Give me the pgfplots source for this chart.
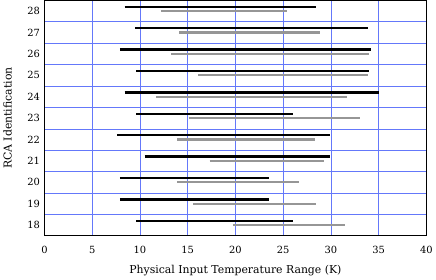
\documentclass[border=0pt]{standalone}
\usepackage{pgfplots}
\pgfplotsset{compat=1.18}
\usepackage{fontspec}
\setmainfont{DejaVu Serif}
\definecolor{gridblue}{RGB}{100,120,250}
\definecolor{bargray}{RGB}{150,150,150}
\begin{document}
\begin{tikzpicture}
\begin{axis}[
  scale only axis,
  width=386.7pt, height=238.3pt,
  xmin=0, xmax=40, ymin=17.5, ymax=28.5,
  xtick={0,5,...,40},
  ytick={18,...,28},
  minor ytick={18.5,19.5,...,27.5},
  xmajorgrids=true,
  yminorgrids=true,
  ymajorgrids=false,
  major tick length=0pt, minor tick length=0pt,
  grid style={gridblue, line width=0.7pt},
  minor grid style={gridblue, line width=0.7pt},
  axis line style={black, line width=0.9pt},
  /pgf/number format/assume math mode=true,
  tick label style={font=\fontsize{10}{11}\selectfont},
  xticklabel style={yshift=-7pt},
  yticklabel style={xshift=-1pt},
  label style={font=\fontsize{11}{12}\selectfont},
  xlabel={Physical Input Temperature Range (K)},
  ylabel={RCA Identification},
  xlabel style={yshift=-5pt},
  ylabel style={yshift=9pt},
  unbounded coords=jump,
]
\addplot[bargray, line width=2.2pt] coordinates {
(12.2,28) (25.4,28) (nan,nan)
(14.1,27) (28.9,27) (nan,nan)
(13.3,26) (34.0,26) (nan,nan)
(16.1,25) (33.9,25) (nan,nan)
(11.7,24) (31.7,24) (nan,nan)
(15.1,23) (33.0,23) (nan,nan)
(13.9,22) (28.3,22) (nan,nan)
(17.3,21) (29.3,21) (nan,nan)
(13.9,20) (26.7,20) (nan,nan)
(15.6,19) (28.4,19) (nan,nan)
(19.75,18) (31.5,18)
};
\addplot[black, line width=2.4pt] coordinates {
(8.4,28.2) (28.4,28.2) (nan,nan)
(9.5,27.2) (33.9,27.2) (nan,nan)
(7.9,26.2) (34.2,26.2) (nan,nan)
(9.6,25.2) (34.0,25.2) (nan,nan)
(8.4,24.2) (35.0,24.2) (nan,nan)
(9.6,23.2) (26.0,23.2) (nan,nan)
(7.6,22.2) (29.9,22.2) (nan,nan)
(10.5,21.2) (29.9,21.2) (nan,nan)
(7.9,20.2) (23.5,20.2) (nan,nan)
(7.9,19.2) (23.5,19.2) (nan,nan)
(9.6,18.2) (26.0,18.2)
};
\end{axis}
\end{tikzpicture}
\end{document}
